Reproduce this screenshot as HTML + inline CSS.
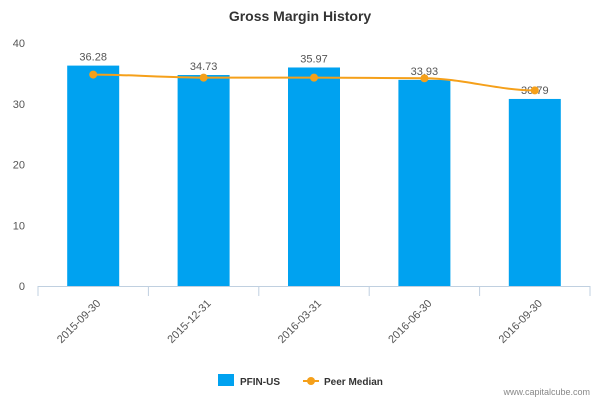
<!DOCTYPE html>
<html><head><meta charset="utf-8"><style>
body{margin:0;background:#fff;font-family:"Liberation Sans","DejaVu Sans",sans-serif}
</style></head><body>
<svg id="chart" width="600" height="400" viewBox="0 0 600 400" xmlns="http://www.w3.org/2000/svg">
<text x="300" y="21" text-anchor="middle" font-size="14" font-weight="bold" fill="#333">Gross Margin History</text>
<g id="grid"></g><g id="bars"></g><g id="line"></g><g id="xaxis"></g>
<g>
<rect x="218" y="374" width="16" height="12" fill="#00a2f0"/>
<text x="240" y="385" font-size="10" font-weight="bold" fill="#333">PFIN-US</text>
<line x1="303" y1="381" x2="319" y2="381" stroke="#f5a01a" stroke-width="2"/>
<circle cx="311" cy="381" r="4" fill="#f5a01a"/>
<text x="324" y="385" font-size="10" font-weight="bold" fill="#333">Peer Median</text>
</g>
<text x="590" y="395" text-anchor="end" font-size="9" fill="#888">www.capitalcube.com</text>
</svg>
<script>
const categories=["2015-09-30","2015-12-31","2016-03-31","2016-06-30","2016-09-30"];
const pfinValues=[36.28,34.73,35.97,33.93,30.79];
const peerValues=[34.8,34.3,34.3,34.2,32.2];
const yTicks=[0,10,20,30,40];
const NS="http://www.w3.org/2000/svg";
const X0=38,X1=590,Y0=286,Y1=43,YMAX=40;
const bw=(X1-X0)/categories.length;
function xC(i){return X0+bw*(i+0.5);}
function yS(v){return Y0-(v/YMAX)*(Y0-Y1);}
function mk(tag,attrs,parent,txt){const e=document.createElementNS(NS,tag);for(const k in attrs)e.setAttribute(k,attrs[k]);if(txt!=null)e.textContent=txt;parent.appendChild(e);return e;}
const grid=document.getElementById('grid');
yTicks.forEach(t=>{
 const e=mk('text',{x:25,y:yS(t)+4,'text-anchor':'end','font-size':11,fill:'#555'},grid,t);
 
 
});
const bars=document.getElementById('bars');
pfinValues.forEach((v,i)=>{
 const r=mk('rect',{x:xC(i)-26,y:yS(v),width:52,height:Y0-yS(v),fill:'#00a2f0'},bars);
 
 
 const t=mk('text',{x:xC(i),y:yS(v)-5,'text-anchor':'middle','font-size':11,fill:'#555'},bars,v.toFixed(2));
 
 
});
const lg=document.getElementById('line');
let d='';
peerValues.forEach((v,i)=>{
 const x=xC(i),y=yS(v);
 if(i===0)d='M'+x+','+y;
 else{const px=xC(i-1),py=yS(peerValues[i-1]);d+=' C'+(px+bw/3)+','+py+' '+(x-bw/3)+','+y+' '+x+','+y;}
});
const p=mk('path',{d:d,fill:'none',stroke:'#f5a01a','stroke-width':2},lg);


peerValues.forEach((v,i)=>{
 const c=mk('circle',{cx:xC(i),cy:yS(v),r:4,fill:'#f5a01a'},lg);
 
 
});
const xa=document.getElementById('xaxis');
const ax=mk('line',{x1:X0,y1:Y0+0.5,x2:X1,y2:Y0+0.5,stroke:'#c0d0e0','stroke-width':1},xa);


for(let i=0;i<=categories.length;i++){
 const x=X0+bw*i;
 const tk=mk('line',{x1:x,y1:Y0,x2:x,y2:Y0+10,stroke:'#c0d0e0'},xa);
 
 
}
categories.forEach((c,i)=>{
 const x=xC(i)+8,y=Y0+18;
 const t=mk('text',{x:x,y:y,'text-anchor':'end','font-size':11,fill:'#555',transform:'rotate(-45 '+x+' '+y+')'},xa,c);
 
 
});
</script>
</body></html>
